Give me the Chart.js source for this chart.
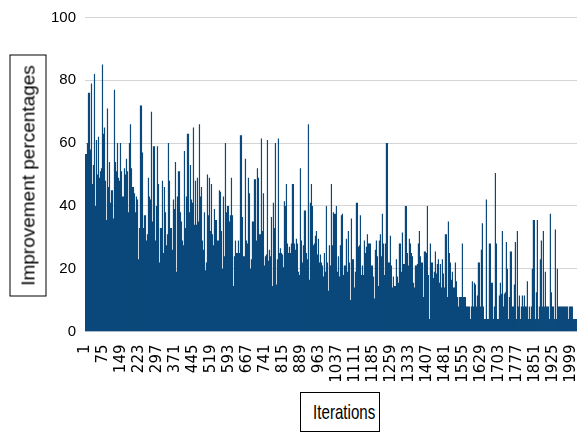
<!DOCTYPE html>
<html>
<head>
<meta charset="utf-8">
<script src="https://cdn.jsdelivr.net/npm/chart.js@4.4.1/dist/chart.umd.min.js"></script>
<style>
  html, body { margin: 0; padding: 0; background: #fff; overflow: hidden; }
  #wrap { position: relative; width: 577px; height: 433px; }
  .axis-title {
    position: absolute; box-sizing: border-box; border: 1px solid #000;
    background: #fff; color: #000; text-align: center; white-space: nowrap;
  }
  #x-title {
    left: 300px; top: 392px; width: 80px; height: 40px;
    font: 21px 'Liberation Sans', Arial, sans-serif; line-height: 38px;
  }
  /* the label face is a condensed one, squeeze it sideways */
  #x-title span { display: inline-block; transform: scaleX(0.72); }
  #y-title {
    left: -92.6px; top: 157.4px; width: 242px; height: 37px;
    transform: rotate(-90deg);
    font: 19px 'Liberation Sans', Arial, sans-serif; line-height: 35px;
  }
</style>
</head>
<body>
<div id="wrap">
  <canvas id="chart"></canvas>
  <div class="axis-title" id="y-title">Improvement percentages</div>
  <div class="axis-title" id="x-title"><span>Iterations</span></div>
</div>
<script>
// iteration numbers printed under the x axis
const tickIters = [1, 75, 149, 223, 297, 371, 445, 519, 593, 667, 741, 815, 889, 963,
  1037, 1111, 1185, 1259, 1333, 1407, 1481, 1555, 1629, 1703, 1777, 1851, 1925, 1999];

// one bar per ~4 iterations (peak improvement % in that slice)
const iterPerBar = 4.115;
const improvement = [
  56.5, 56.5, 60, 76, 76, 58, 79, 47, 53, 82, 40, 61, 50, 62, 49, 51, 52, 85, 63, 65,
  48, 35.5, 71, 46, 54, 41, 45, 45, 36, 77, 54, 51, 60, 49, 48, 60, 51, 43, 43, 52,
  50, 55, 51, 38, 60, 66, 52, 46, 46, 44, 38, 43, 42, 23, 33, 72, 72, 57, 33, 37,
  37, 29, 31, 49, 43, 42, 70, 35, 59, 59, 29, 40, 59, 47, 22, 33, 33, 48, 25, 46,

  38, 27.5, 31, 60, 48, 33, 33, 26, 42, 39, 54, 19, 43, 51, 51, 38, 35, 29, 27.5, 57.5,
  33, 43, 63, 63, 38, 53, 42, 41, 65, 34, 48, 34, 49, 35, 66, 43, 46, 29, 26, 38,
  19.5, 22, 50, 37, 49, 32, 47, 31, 27.5, 39, 35.5, 35.5, 29, 29, 45, 44.5, 32, 20, 43, 24,
  60, 38, 40, 40, 35, 37, 49, 37, 14.5, 24, 29, 25, 25, 29, 25, 62.5, 62.5, 36.5, 24, 24,

  55, 29, 28, 49, 44, 20, 23, 35, 35, 48.5, 48.5, 29, 52, 49, 31, 31, 61.5, 32, 44, 21,
  24, 24.5, 61, 22.5, 26, 24, 36.5, 14.5, 41, 33, 60, 15, 23, 61.5, 25, 26.5, 25, 24.5, 20.5, 41.5,
  40, 47, 28, 25, 27, 25, 28, 47, 47, 28, 26, 29.5, 28, 19, 18, 52, 29, 22, 27.5, 38.5,
  38.5, 25, 23, 66, 16.5, 41, 47, 40, 27.5, 28, 30.5, 32, 24.5, 29.5, 22, 24.5, 22, 21, 17.5, 25,

  19, 40, 22, 13, 27.5, 21, 47, 27.5, 38, 37.5, 37.5, 40, 19, 24, 17.5, 27.5, 37, 37.5, 18, 21,
  21, 29.5, 19, 32, 22, 10, 36, 23, 23, 14, 19, 41, 41, 27, 27.5, 37, 18, 21, 18, 29,
  25, 27, 31, 28, 28, 28, 21, 21, 17.5, 10.5, 26, 29, 24, 14.5, 29, 31, 24, 37.5, 28, 18,
  28, 60, 60, 22, 22, 30.5, 21, 14, 17.5, 14.5, 14.5, 23, 17.5, 15.5, 28, 28, 19, 31.5, 21.5, 21.5,

  40, 40, 25, 21, 29.5, 28, 25, 24, 15.5, 14, 21, 21, 21.5, 28, 32, 24, 22, 22, 11, 25.5,
  25.5, 25, 40, 18, 4, 28, 22, 22, 17, 19, 25.5, 18.5, 21.5, 23, 15.5, 21.5, 14, 23, 18.5, 14,
  31, 31, 11, 35, 25, 22, 16.5, 19, 14, 14, 22, 16, 11, 8, 11, 11, 11, 28, 11, 11,
  11, 8, 8, 8, 8, 4, 8, 16, 8, 15.5, 15, 8, 11.5, 22, 22, 8, 26, 34.5, 8, 4,

  4, 42, 4, 4, 28, 28, 15.5, 15.5, 4, 8, 50.5, 28, 4, 4, 11.5, 15.5, 12, 32, 8, 12,
  12.5, 28.5, 20, 4, 11, 25.5, 25.5, 8, 8, 15, 28.5, 4, 32, 8, 11.5, 4, 8, 11.5, 8, 11.5,
  8, 8, 16, 4, 8, 4, 8, 20, 35.5, 35.5, 4, 12.5, 35.5, 4, 8, 23, 29, 8, 32, 8,
  19, 8, 8, 8, 4, 37.5, 12.5, 8, 8, 4, 32.5, 4, 20, 8, 8, 8, 8, 8, 8, 8,
  8, 8, 8, 4, 8, 8, 8, 8, 4, 4, 4, 4
];

const yTicks = [0, 20, 40, 60, 80, 100];

const points = improvement.map((v, j) => ({ x: 1 + j * iterPerBar, y: v }));

const canvas = document.getElementById('chart');
canvas.width = 577;
canvas.height = 433;

const chart = new Chart(canvas, {
  type: 'bar',
  data: {
    datasets: [{
      data: points,
      backgroundColor: '#0b487b',
      borderWidth: 0,
      barPercentage: 1.2,
      categoryPercentage: 1
    }]
  },
  options: {
    responsive: false,
    animation: false,
    devicePixelRatio: 1,
    layout: { padding: { top: 17.5, left: 0, right: 0, bottom: 0 } },
    plugins: { legend: { display: false }, tooltip: { enabled: false } },
    scales: {
      x: {
        type: 'linear',
        min: -1,
        max: 2024,
        offset: false,
        grid: { display: false, drawTicks: false },
        border: { color: '#a8b8cc' },
        ticks: {
          autoSkip: false,
          minRotation: 90,
          maxRotation: 90,
          padding: 13,
          color: '#000',
          font: { family: 'DejaVu Sans', size: 15 },
          callback: v => String(v)
        },
        afterBuildTicks: s => { s.ticks = tickIters.map(v => ({ value: v })); },
        afterFit: s => { s.height = 101.5; s.paddingLeft = 0; s.paddingRight = 0; }
      },
      y: {
        min: 0,
        max: 100,
        grid: { color: '#d4d4d4', drawTicks: false },
        border: { display: false },
        ticks: {
          padding: 9,
          color: '#000',
          font: { family: "'Liberation Sans', Arial, sans-serif", size: 15 }
        },
        afterBuildTicks: s => { s.ticks = yTicks.map(v => ({ value: v })); },
        afterFit: s => { s.width = 85; s.paddingTop = 0; s.paddingBottom = 0; }
      }
    }
  }
});
</script>
</body>
</html>
